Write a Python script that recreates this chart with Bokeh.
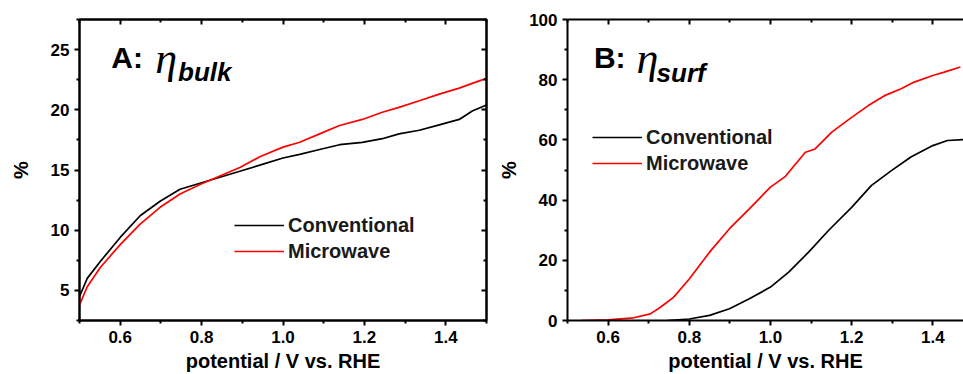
from bokeh.plotting import figure
from bokeh.layouts import row
from bokeh.models import (Range1d, FixedTicker, NumeralTickFormatter, LinearAxis,
                          Legend, LegendItem, Label)
from bokeh.embed import file_html
from bokeh.resources import INLINE

# ---------------- data ----------------
# Panel A: eta_bulk (%)
bulk_conv_x = [0.5, 0.519, 0.551, 0.6, 0.649, 0.698, 0.747, 0.796, 0.845, 0.894, 0.943,
               1.0, 1.041, 1.09, 1.139, 1.195, 1.244, 1.285, 1.335, 1.384, 1.433, 1.465, 1.5]
bulk_conv_y = [4.5, 6.0, 7.4, 9.4, 11.2, 12.4, 13.4, 13.9, 14.4, 14.9, 15.4,
               16.0, 16.3, 16.7, 17.1, 17.3, 17.6, 18.0, 18.3, 18.75, 19.2, 19.9, 20.4]
bulk_mw_x = [0.5, 0.519, 0.551, 0.6, 0.649, 0.698, 0.747, 0.796, 0.845, 0.894, 0.943,
             1.0, 1.041, 1.09, 1.139, 1.195, 1.244, 1.285, 1.335, 1.384, 1.433, 1.482, 1.5]
bulk_mw_y = [3.8, 5.3, 6.9, 8.8, 10.5, 11.9, 13.0, 13.8, 14.5, 15.2, 16.1,
             16.9, 17.3, 18.0, 18.7, 19.2, 19.8, 20.2, 20.75, 21.3, 21.8, 22.4, 22.6]

# Panel B: eta_surf (%)
surf_conv_x = [0.745, 0.8, 0.85, 0.899, 0.948, 1.0, 1.045, 1.094, 1.143, 1.2, 1.249,
               1.298, 1.346, 1.4, 1.436, 1.476]
surf_conv_y = [0.0, 0.5, 1.7, 3.9, 7.2, 11.1, 16.1, 22.7, 29.9, 37.6, 44.9,
               49.8, 54.3, 58.1, 59.8, 60.1]
surf_mw_x = [0.533, 0.6, 0.663, 0.704, 0.729, 0.761, 0.8, 0.85, 0.899, 0.948, 1.0, 1.037,
             1.086, 1.11, 1.151, 1.2, 1.241, 1.281, 1.322, 1.354, 1.4, 1.428, 1.468]
surf_mw_y = [0.0, 0.2, 0.9, 2.2, 4.4, 7.7, 13.8, 22.7, 30.5, 37.1, 44.3, 47.9,
             55.9, 57.0, 62.6, 67.5, 71.4, 74.7, 77.0, 79.2, 81.4, 82.5, 84.2]

x_major = [0.6, 0.8, 1.0, 1.2, 1.4]
x_minor = [0.5, 0.7, 0.9, 1.1, 1.3, 1.5]
a_y_major = [5, 10, 15, 20, 25]
a_y_minor = [2.5, 7.5, 12.5, 17.5, 22.5, 27.5]
b_y_major = [0, 20, 40, 60, 80, 100]
b_y_minor = [10, 30, 50, 70, 90]
series_names = ["Conventional", "Microwave"]
x_label = "potential / V vs. RHE"
y_label = "%"

FONT = "Liberation Sans"
TICK_FS = "17px"
LABEL_FS = "20px"


def style_main_axis(ax, standoff_label):
    ax.axis_line_width = 2
    ax.axis_line_color = "black"
    ax.major_tick_line_width = 2
    ax.minor_tick_line_width = 2
    ax.major_tick_out = 5
    ax.major_tick_in = 0
    ax.minor_tick_out = 3
    ax.minor_tick_in = 0
    ax.major_label_text_font = FONT
    ax.major_label_text_font_style = "bold"
    ax.major_label_text_font_size = TICK_FS
    ax.major_label_text_color = "black"
    ax.major_label_standoff = 5
    ax.axis_label_text_font = FONT
    ax.axis_label_text_font_style = "bold"
    ax.axis_label_text_font_size = LABEL_FS
    ax.axis_label_text_color = "black"
    ax.axis_label_standoff = standoff_label


def add_mirror_axis(p, side, ticker):
    ax = LinearAxis(ticker=ticker)
    ax.axis_line_width = 2
    ax.major_tick_line_width = 2
    ax.minor_tick_line_width = 2
    ax.major_tick_in = 5
    ax.major_tick_out = 0
    ax.minor_tick_in = 3
    ax.minor_tick_out = 0
    ax.major_label_text_font_size = "1px"
    ax.major_label_text_color = None
    ax.major_label_standoff = 0
    p.add_layout(ax, side)


def make_panel(width, x_end, y_range, y_major, y_minor, mb_left, mb_right, ylab_standoff,
               outline):
    p = figure(width=width, height=374, output_backend="svg", toolbar_location=None,
               x_range=Range1d(0.5, x_end), y_range=y_range,
               min_border_left=mb_left, min_border_right=mb_right,
               min_border_top=19, min_border_bottom=54)
    p.grid.visible = False
    p.background_fill_color = "white"
    p.border_fill_color = "white"
    if outline:
        p.outline_line_color = "black"
        p.outline_line_width = 2
    else:
        p.outline_line_color = None
    xt = FixedTicker(ticks=x_major, minor_ticks=x_minor)
    yt = FixedTicker(ticks=y_major, minor_ticks=y_minor)
    p.xaxis.ticker = xt
    p.yaxis.ticker = yt
    p.xaxis.formatter = NumeralTickFormatter(format="0.0")
    p.xaxis.axis_label = x_label
    p.yaxis.axis_label = y_label
    style_main_axis(p.xaxis[0], 4)
    style_main_axis(p.yaxis[0], ylab_standoff)
    add_mirror_axis(p, "above", FixedTicker(ticks=x_major, minor_ticks=x_minor))
    if outline:
        add_mirror_axis(p, "right", FixedTicker(ticks=y_major, minor_ticks=y_minor))
    return p


def add_legend(p, r1, r2, loc):
    leg = Legend(items=[LegendItem(label=series_names[0], renderers=[r1]),
                        LegendItem(label=series_names[1], renderers=[r2])],
                 location=loc)
    leg.background_fill_alpha = 0
    leg.border_line_alpha = 0
    leg.padding = 0
    leg.margin = 0
    leg.spacing = 0
    leg.glyph_width = 50
    leg.glyph_height = 26
    leg.label_height = 26
    leg.label_standoff = 4
    leg.label_text_font = FONT
    leg.label_text_font_style = "bold"
    leg.label_text_font_size = "20px"
    leg.label_text_color = "#1a1a1a"
    p.add_layout(leg)


def add_title(p, letter, sub, xl, yl, xe, ye, xs, ys):
    p.add_layout(Label(x=xl, y=yl, text=letter, text_font=FONT, text_font_style="bold",
                       text_font_size="30px", text_color="black",
                       text_baseline="alphabetic"))
    p.add_layout(Label(x=xe, y=ye, text="η", text_font="Liberation Serif",
                       text_font_style="italic", text_font_size="44px", text_color="black",
                       text_baseline="alphabetic"))
    p.add_layout(Label(x=xs, y=ys, text=sub, text_font=FONT, text_font_style="bold italic",
                       text_font_size="26px", text_color="black",
                       text_baseline="alphabetic"))


# ---------------- panel A ----------------
pa = make_panel(495, 1.5, Range1d(2.5, 27.5), a_y_major, a_y_minor, 79, 9, 16, True)
ra1 = pa.line(bulk_conv_x, bulk_conv_y, line_color="black", line_width=1.7)
ra2 = pa.line(bulk_mw_x, bulk_mw_y, line_color="#ff0000", line_width=1.7)
add_legend(pa, ra1, ra2, (155, 56))
add_title(pa, "A:", "bulk", 0.578, 24.35, 0.686, 24.26, 0.742, 23.1)

# ---------------- panel B ----------------
pb = make_panel(468, 1.4756, Range1d(0, 100), b_y_major, b_y_minor, 68, 0, 6, False)
rb1 = pb.line(surf_conv_x, surf_conv_y, line_color="black", line_width=1.7)
rb2 = pb.line(surf_mw_x, surf_mw_y, line_color="#ff0000", line_width=1.7)
add_legend(pb, rb1, rb2, (25, 144))
add_title(pb, "B:", "surf", 0.565, 87.35, 0.67, 87.0, 0.7195, 82.35)

layout = row(pa, pb)
open("out.html", "w").write(file_html(layout, INLINE))
